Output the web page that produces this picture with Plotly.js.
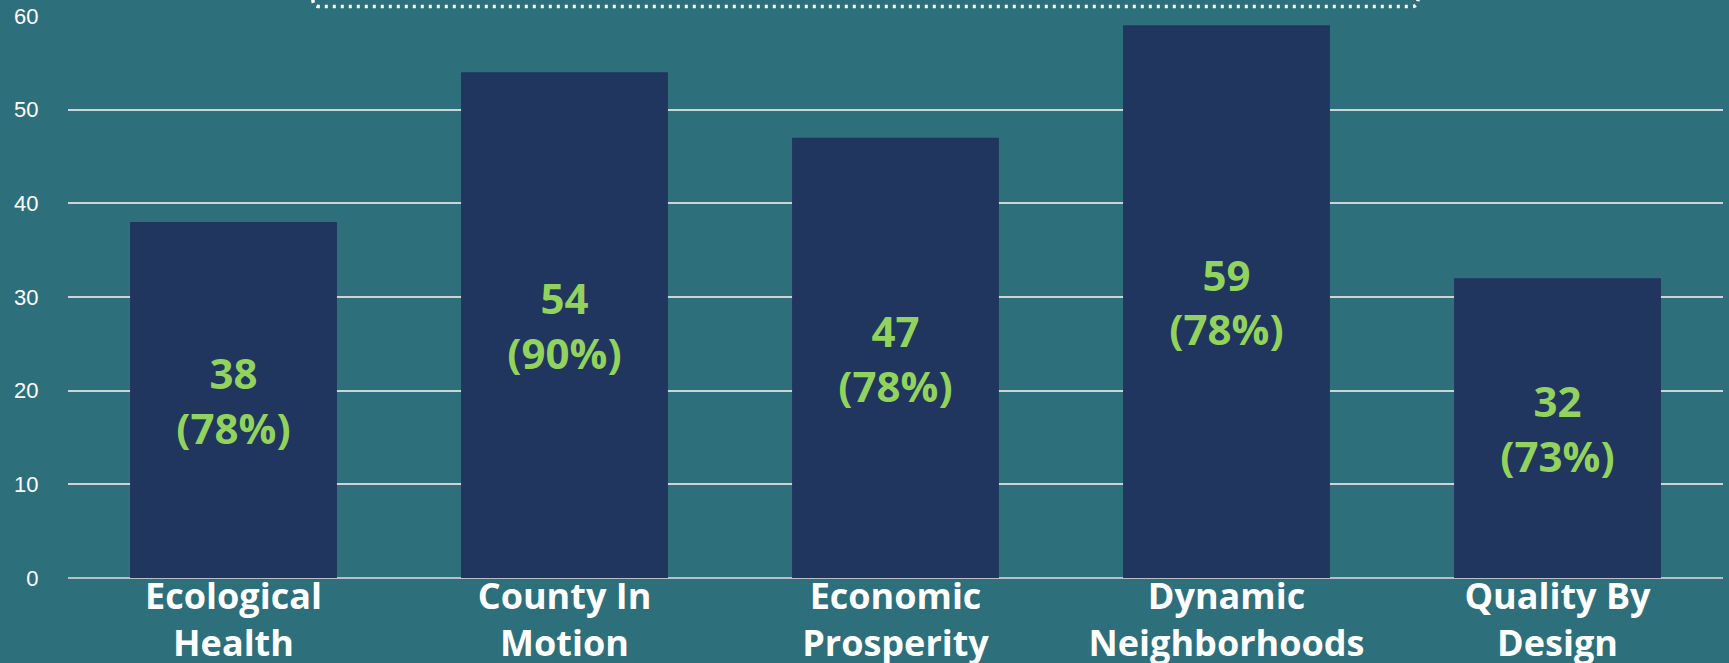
<!DOCTYPE html>
<html>
<head>
<meta charset="utf-8">
<script src="https://cdn.plot.ly/plotly-3.0.1.min.js"></script>
<style>html,body{margin:0;padding:0;background:#2e6f7c;}#chart{width:1729px;height:663px;}</style>
</head>
<body>
<div id="chart"></div>
<script>
const categories = ["Ecological<br>Health", "County In<br>Motion", "Economic<br>Prosperity", "Dynamic<br>Neighborhoods", "Quality By<br>Design"];
const counts = [38, 54, 47, 59, 32];
const percents = ["78%", "90%", "78%", "78%", "73%"];
const yTicks = [0, 10, 20, 30, 40, 50, 60];

const labels = counts.map((c, i) => c + "<br>(" + percents[i] + ")");

const trace = {
  type: "bar",
  x: categories,
  y: counts,
  text: labels,
  textposition: "inside",
  insidetextanchor: "middle",
  textangle: 0,
  constraintext: "none",
  textfont: {family: "Open Sans, Noto Sans, sans-serif", size: 42, color: "#92d35e", weight: "bold"},
  marker: {color: "#21365f", line: {width: 0}},
  hoverinfo: "none"
};

// dotted frame (mostly above the visible area), rounded lower corners
const fx0 = 0.1480, fx1 = 0.8157, fyb = 1.0168, fyt = 1.2, rx = 0.0040, ry = 0.012;
const framePath = "M " + fx0 + "," + fyt + " L " + fx0 + "," + (fyb + ry) +
  " Q " + fx0 + "," + fyb + " " + (fx0 + rx) + "," + fyb +
  " L " + (fx1 - rx) + "," + fyb +
  " Q " + fx1 + "," + fyb + " " + fx1 + "," + (fyb + ry) +
  " L " + fx1 + "," + fyt;

const layout = {
  width: 1729,
  height: 663,
  paper_bgcolor: "#2e6f7c",
  plot_bgcolor: "#2e6f7c",
  margin: {l: 68, r: 6, t: 16, b: 85, pad: 0},
  bargap: 0.375,
  showlegend: false,
  xaxis: {
    tickfont: {family: "Open Sans, Noto Sans, sans-serif", size: 36, color: "#ffffff", weight: "bold"},
    showgrid: false,
    showline: false,
    ticks: "",
    ticklabelstandoff: -6,
    automargin: false
  },
  yaxis: {
    range: [0, 60],
    tickvals: yTicks,
    ticktext: yTicks.map(String),
    tickfont: {family: "Liberation Sans, Arial, sans-serif", size: 22, color: "#ffffff"},
    showgrid: true,
    gridcolor: "#cfd3d6",
    gridwidth: 2,
    zeroline: true,
    zerolinecolor: "#b8c0c6",
    zerolinewidth: 2,
    ticks: "outside",
    ticklen: 24,
    tickcolor: "rgba(0,0,0,0)",
    showline: false,
    automargin: false,
    fixedrange: true
  },
  shapes: [{
    type: "path",
    xref: "paper", yref: "paper",
    path: framePath,
    line: {color: "#ffffff", width: 3.5, dash: "3px,5px"},
    layer: "above"
  }]
};

Plotly.newPlot("chart", [trace], layout, {displayModeBar: false, staticPlot: true});
</script>
</body>
</html>
